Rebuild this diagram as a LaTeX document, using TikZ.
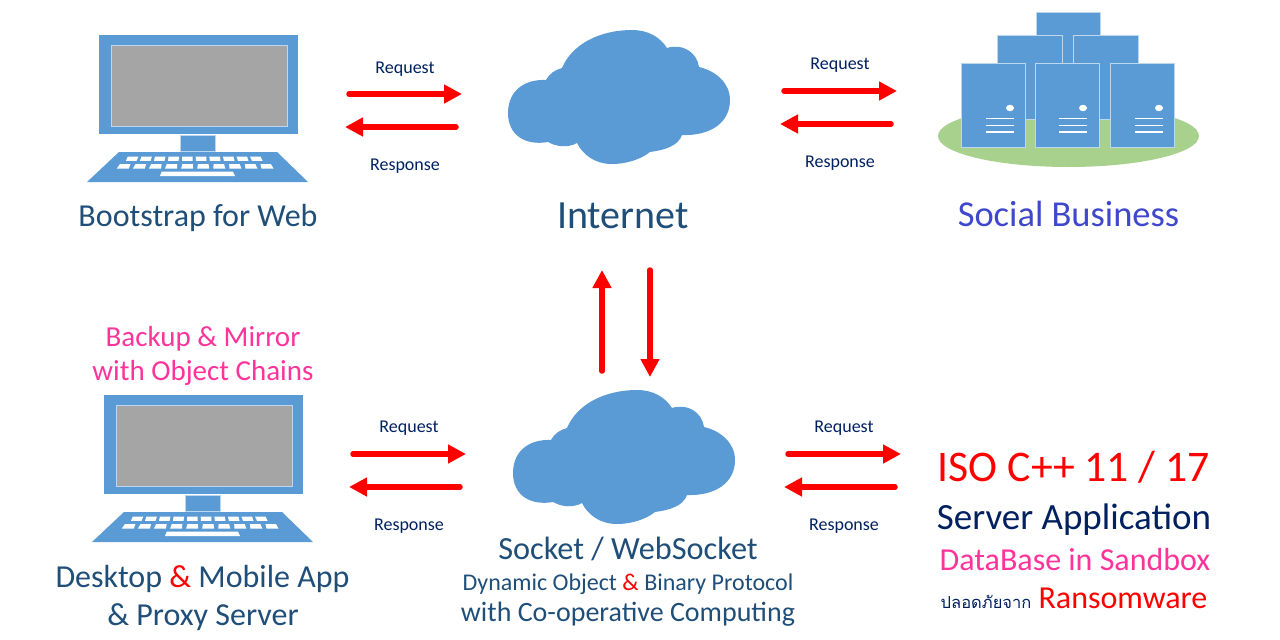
\documentclass[tikz,border=0pt]{standalone}
\usepackage{fontspec}
\setmainfont{Carlito}
\newfontfamily\thaifont[Script=Thai]{Loma}
\usetikzlibrary{arrows.meta,positioning}
\definecolor{shapeblue}{HTML}{5B9BD5}
\definecolor{edgeblue}{HTML}{BDD7EE}
\definecolor{lawngreen}{HTML}{A9D18E}
\definecolor{screengray}{HTML}{A5A5A5}
\definecolor{labelblue}{HTML}{1F4E79}
\definecolor{navyblue}{HTML}{002060}
\definecolor{socialblue}{HTML}{3F48CC}
\definecolor{hotpink}{HTML}{FF3399}
\tikzstyle{flow arrow}=[draw=red, line width=5.5pt, line cap=round, -{Triangle[length=18pt,width=18pt]}]
\tikzstyle{flow label}=[text=navyblue, font=\fontsize{18}{20}\selectfont, inner sep=0pt]
\tikzstyle{title}=[text=labelblue, inner sep=0pt]
\tikzstyle{blue part}=[fill=shapeblue, draw=edgeblue, line width=0.8pt]
\tikzstyle{key}=[fill=white, draw=none]
\newcommand{\fs}[1]{\fontsize{#1}{#1}\selectfont}
% laptop, drawn at its top one's place and moved by (#1,#2)
\newcommand{\laptop}[2]{
  \begin{scope}[shift={(#1,#2)}]
    \fill[shapeblue] (99,35) rectangle (298,134);
    \filldraw[fill=screengray, draw=edgeblue, line width=0.8pt] (111,45) rectangle (287,126);
    \filldraw[blue part] (180,135) rectangle (215,151);
    \fill[shapeblue] (119,152) -- (277,152) -- (308,182) -- (87,182) -- cycle;
    \foreach \i in {0,...,9}{
      \fill[key] ({127.7+13.6*\i},156.7) -- ({138.3+13.6*\i},156.7) -- ({136.5+14*\i},160.8) -- ({126+14*\i},160.8) -- cycle;
      \fill[key] ({120+15.6*\i},164) -- ({130.5+15.6*\i},164) -- ({128.7+16.1*\i},168.7) -- ({116.7+16.1*\i},168.7) -- cycle;
    }
    \fill[key] (161.7,171.7) -- (233,171.7) -- (235,176) -- (160,176) -- cycle;
  \end{scope}
}
% cloud, moved the same way
\newcommand{\cloud}[2]{
  \fill[shapeblue, shift={(#1,#2)}] (508,113)
    .. controls (508,92) and (523,79) .. (546,80)
    .. controls (550,73) and (555,70) .. (562,68)
    .. controls (572,44) and (600,30) .. (632,30)
    .. controls (648,30) and (660,37) .. (667,48)
    .. controls (682,43) and (697,52) .. (699,67)
    .. controls (716,71) and (730,83) .. (730,100)
    .. controls (730,123) and (710,136) .. (682,135)
    .. controls (678,146) and (665,150) .. (650,152)
    .. controls (640,160) and (625,164) .. (612,164)
    .. controls (595,164) and (583,155) .. (577,143)
    .. controls (568,148) and (557,147) .. (548,142)
    .. controls (525,146) and (508,135) .. (508,113) -- cycle;
}
\begin{document}
\begin{tikzpicture}[x=1pt, y=-1pt]
\useasboundingbox (0,0) rectangle (1280,640);
%
  \laptop{0}{0}
  \laptop{5}{360}
  \cloud{0}{0}
  \cloud{5}{360}
% servers
  \fill[lawngreen] (1068.5,136) ellipse [x radius=130.5, y radius=31];
  \filldraw[blue part] (1036,12) rectangle (1100,64);
  \filldraw[blue part] (997,35) rectangle (1062,119);
  \filldraw[blue part] (1073.5,35) rectangle (1138,119);
  \foreach \x/\dx in {961/1010, 1035/1083, 1110/1159}{
    \filldraw[blue part] (\x,63) rectangle ++(64.5,84);
    \fill[white] (\dx,108) ellipse [x radius=4, y radius=3.2];
    \foreach \y in {118.5,125.5,132}
      \draw[white, line width=1.8pt] ({\dx-24},\y) -- ({\dx+4},\y);
  }
% arrows
  \foreach \name/\xa/\ya/\xb/\yb in {
      a/349/94/462/94, b/456/127/345/127,
      c/784/91/897/91, d/891/124/780/124,
      e/353/454/466/454, f/460/487/349/487,
      g/788/454/901/454, h/895/487/784/487,
      i/602/371/602/270, j/650/270/650/377}{
    \coordinate (\name1) at (\xa,\ya);
    \coordinate (\name2) at (\xb,\yb);
    \draw[flow arrow] (\name1) -- (\name2);
  }
% flow labels
  \foreach \name/\x/\y/\word in {
      reqa/405/69/Request, resa/405/166/Response,
      reqb/840/65/Request, resb/840/163/Response,
      reqc/409/428/Request, resc/409/526/Response,
      reqd/844/428/Request, resd/844/526/Response}
    \node[flow label] (\name) at (\x,\y) {\word};
% titles
  \node[title, font=\fs{32}] (web) at (198,218) {Bootstrap for Web};
  \node[title, font=\fs{40}] (internet) at (623,216) {Internet};
  \node[title, text=socialblue, font=\fs{36.5}] (social) at (1068.5,214) {Social Business};
  \node[title, text=hotpink, font=\fs{29}] (backup) at (203,338.5) {Backup \& Mirror};
  \node[title, text=hotpink, font=\fs{29}] (chains) at (203,373) {with Object Chains};
  \node[title, font=\fs{32}] (desktop) at (202.5,579) {Desktop \textcolor{red}{\&} Mobile App};
  \node[title, font=\fs{32}] (proxy) at (203,617) {\& Proxy Server};
  \node[title, font=\fs{32.3}] (socket) at (628,549) {Socket / WebSocket};
  \node[title, font=\fs{24}] (binary) at (628,584) {Dynamic Object \textcolor{red}{\&} Binary Protocol};
  \node[title, font=\fs{28}] (coop) at (628,614) {with Co-operative Computing};
  \node[title, text=red, font=\fs{43.7}] (iso) at (1074,467) {ISO C++ 11 / 17};
  \node[title, text=navyblue, font=\fs{37}] (server) at (1074,520) {Server Application};
  \node[title, text=hotpink, font=\fs{32}] (sandbox) at (1075,560) {DataBase in Sandbox};
  \node[title, text=red, font=\fs{32}] (ransom) at (1074,598) {{\thaifont\fs{16.5}\textcolor{navyblue}{ปลอดภัยจาก}} Ransomware};
%
\end{tikzpicture}
\end{document}
